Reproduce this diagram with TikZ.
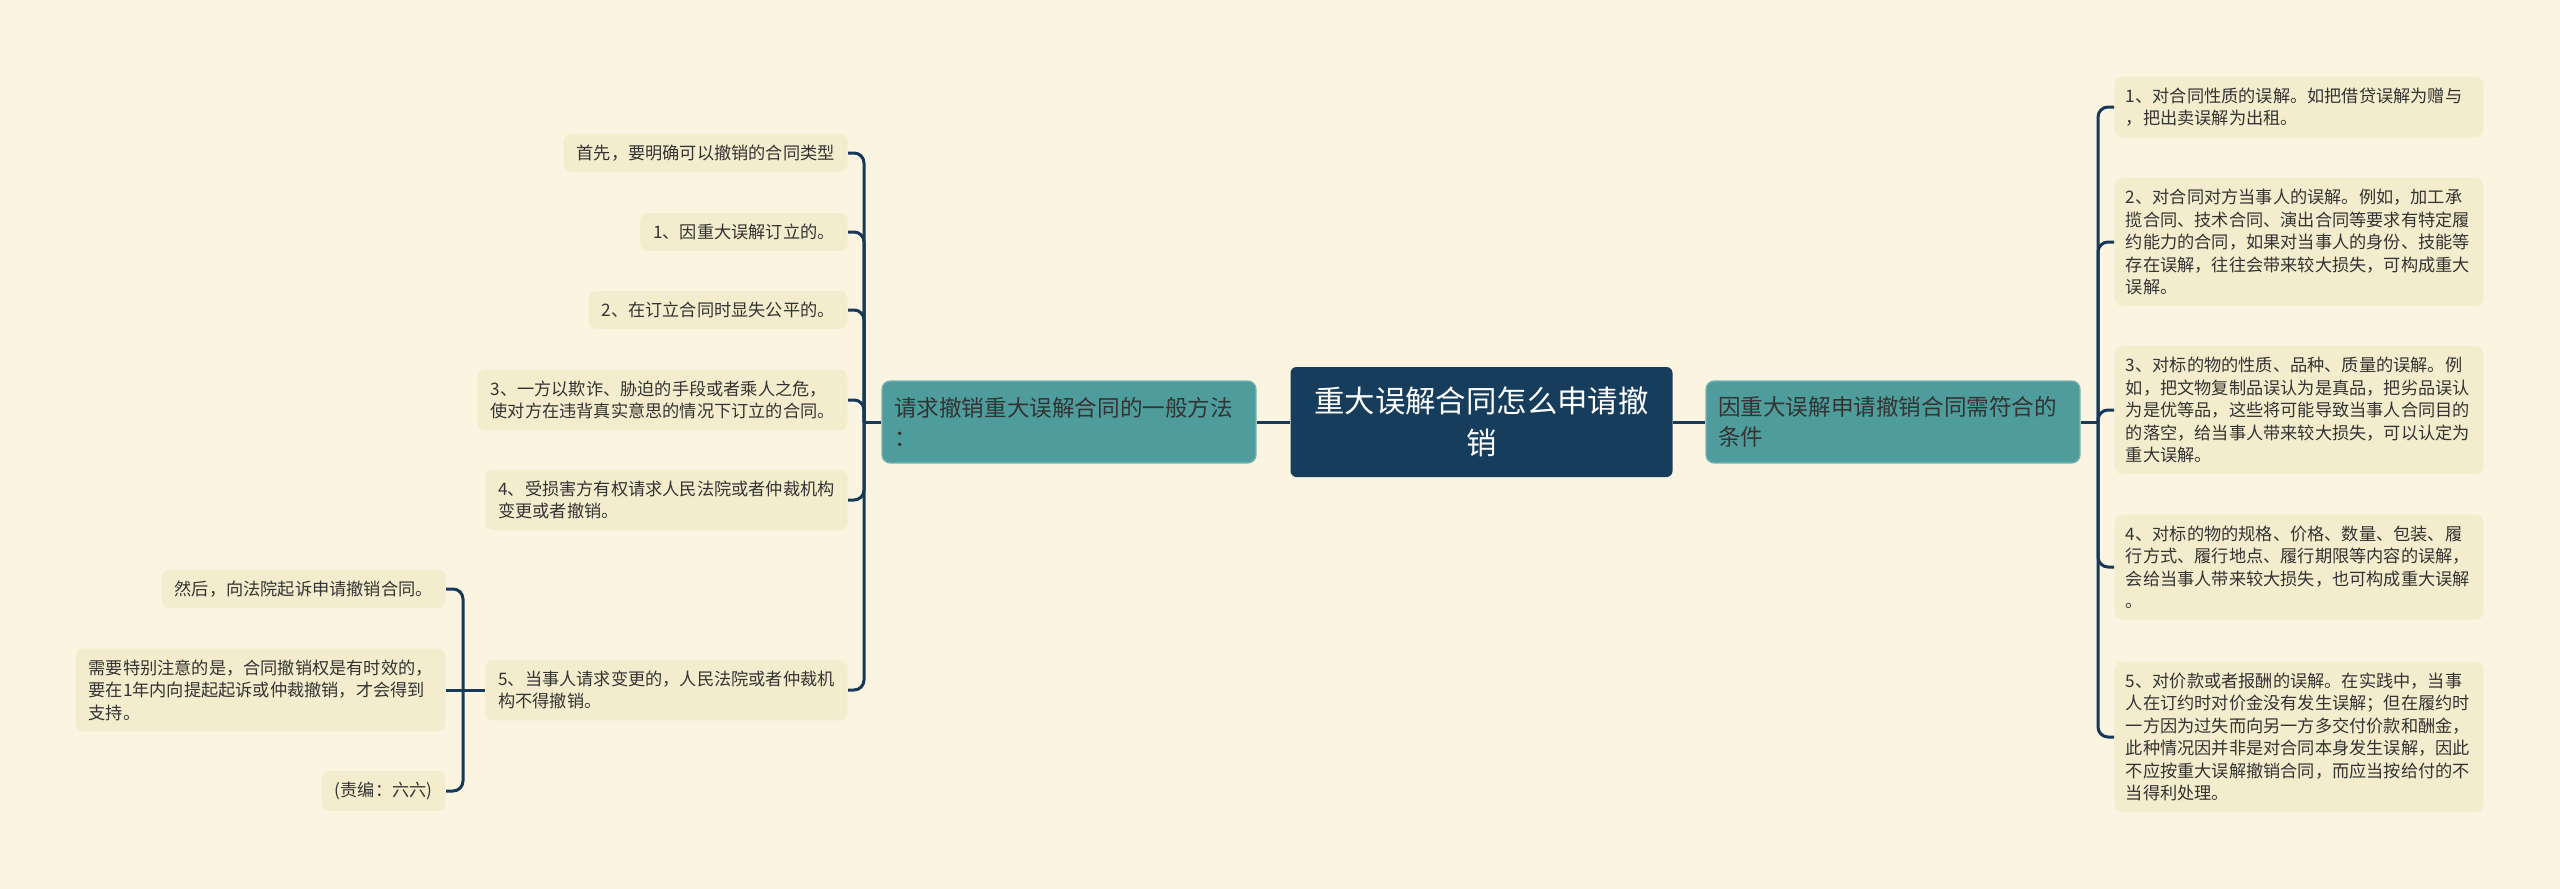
\documentclass[tikz,border=0pt]{standalone}
\usepackage{fontspec}
\setmainfont{Noto Sans CJK SC}
\usepackage{xcolor}
\definecolor{mmbg}{HTML}{FAF4E0}
\definecolor{mmnavy}{HTML}{173D5D}
\definecolor{mmteal}{HTML}{4E9D9C}
\definecolor{mmleaf}{HTML}{F4EDCD}
\definecolor{mmtext}{HTML}{333333}
\definecolor{mmline}{HTML}{16395A}

\begin{document}
\begin{tikzpicture}[x=0.5pt, y=-0.5pt,
  rootbox/.style={fill=mmnavy, rounded corners=3pt, text=white, font=\fontsize{15.2}{20.8}\selectfont, align=center, minimum width=191pt, minimum height=55pt, inner sep=0pt},
  branch/.style={fill=mmteal, draw=mmteal!75!white, line width=0.6pt, rounded corners=4pt, text=mmtext, font=\fontsize{11.3}{15}\selectfont, align=left, text width=175pt, inner xsep=6pt, inner ysep=0pt, minimum height=41pt},
  leaf/.style={fill=mmleaf, rounded corners=4pt, text=mmtext, font=\fontsize{8.6}{11.25}\selectfont, align=left, inner xsep=6.5pt, inner ysep=5.5pt},
  rleaf/.style={leaf, text width=173pt, inner xsep=5.75pt},
  link/.style={draw=mmline, line width=1.5pt, rounded corners=5pt},
]
\useasboundingbox (0,0) rectangle (2560,889);
\fill[mmbg] (0,0) rectangle (2560,889);

% centre and the two main branches
\node[rootbox] (root) at (1481.5,422) {重大误解合同怎么申请撤\\销};
\node[branch] (lm) at (1069,422) {请求撤销重大误解合同的一般方法\\：};
\node[branch] (rm) at (1893,422) {因重大误解申请撤销合同需符合的\\条件};

% left branch leaves, right aligned
\node[leaf, anchor=east] (l0) at (848,153) {首先，要明确可以撤销的合同类型};
\node[leaf, anchor=east] (l1) at (848,232) {1、因重大误解订立的。};
\node[leaf, anchor=east] (l2) at (848,310) {2、在订立合同时显失公平的。};
\node[leaf, anchor=east] (l3) at (848,400) {3、一方以欺诈、胁迫的手段或者乘人之危，\\使对方在违背真实意思的情况下订立的合同。};
\node[leaf, anchor=east] (l4) at (848,500) {4、受损害方有权请求人民法院或者仲裁机构\\变更或者撤销。};
\node[leaf, anchor=east] (l5) at (848,690) {5、当事人请求变更的，人民法院或者仲裁机\\构不得撤销。};

% second level under item 5
\node[leaf, anchor=east] (s0) at (446,589) {然后，向法院起诉申请撤销合同。};
\node[leaf, anchor=east] (s1) at (446,690) {需要特别注意的是，合同撤销权是有时效的，\\要在1年内向提起起诉或仲裁撤销，才会得到\\支持。};
\node[leaf, anchor=east] (s2) at (446,791) {(责编：六六)};

% right branch leaves
\node[rleaf, anchor=west] (r0) at (2114,107) {1、对合同性质的误解。如把借贷误解为赠与\\，把出卖误解为出租。};
\node[rleaf, anchor=west] (r1) at (2114,242) {2、对合同对方当事人的误解。例如，加工承\\揽合同、技术合同、演出合同等要求有特定履\\约能力的合同，如果对当事人的身份、技能等\\存在误解，往往会带来较大损失，可构成重大\\误解。};
\node[rleaf, anchor=west] (r2) at (2114,410) {3、对标的物的性质、品种、质量的误解。例\\如，把文物复制品误认为是真品，把劣品误认\\为是优等品，这些将可能导致当事人合同目的\\的落空，给当事人带来较大损失，可以认定为\\重大误解。};
\node[rleaf, anchor=west] (r3) at (2114,567) {4、对标的物的规格、价格、数量、包装、履\\行方式、履行地点、履行期限等内容的误解，\\会给当事人带来较大损失，也可构成重大误解\\。};
\node[rleaf, anchor=west] (r4) at (2114,737) {5、对价款或者报酬的误解。在实践中，当事\\人在订约时对价金没有发生误解；但在履约时\\一方因为过失而向另一方多交付价款和酬金，\\此种情况因并非是对合同本身发生误解，因此\\不应按重大误解撤销合同，而应当按给付的不\\当得利处理。};

% connectors
\coordinate (ljoin) at (864,422);
\coordinate (rjoin) at (2098,422);
\coordinate (sjoin) at (463,690);
\draw[link] (root.west) -- (lm.east);
\draw[link] (root.east) -- (rm.west);
\draw[link] (lm.west) -- (ljoin);
\draw[link] (rm.east) -- (rjoin);
\foreach \n in {l0,l1,l2,l3,l4,l5}
  \draw[link] (\n.east) -| (ljoin);
\foreach \n in {r0,r1,r2,r3,r4}
  \draw[link] (\n.west) -| (rjoin);
\draw[link] (l5.west) -- (sjoin);
\draw[link] (s1.east) -- (sjoin);
\foreach \n in {s0,s2}
  \draw[link] (\n.east) -| (sjoin);
\end{tikzpicture}
\end{document}
